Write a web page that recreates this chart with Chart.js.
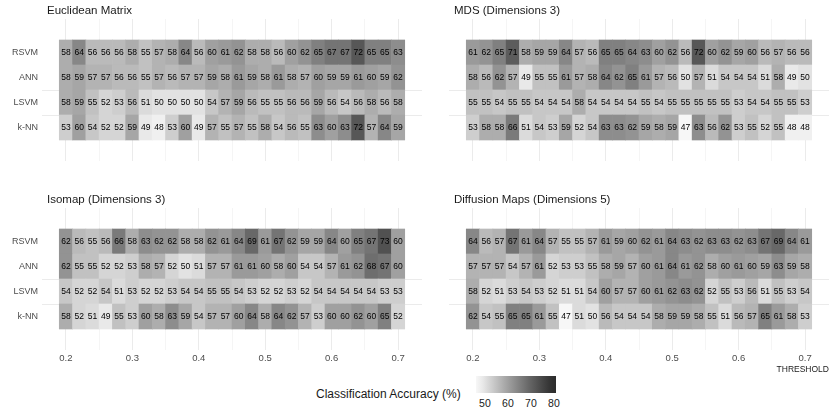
<!DOCTYPE html>
<html>
<head>
<meta charset="utf-8">
<script src="https://cdn.jsdelivr.net/npm/chart.js@4.4.1/dist/chart.umd.min.js"></script>
<style>
    * {
        margin: 0;
        padding: 0;
    }

    body {
        width: 830px;
        height: 415px;
        position: relative;
        overflow: hidden;
        background: #fff;
        font-family: "Liberation Sans", Arial, sans-serif;
    }

    canvas {
        position: absolute;
    }

    .legend-title {
        position: absolute;
        left: 316px;
        top: 387px;
        font-size: 12px;
        color: #1a1a1a;
        white-space: nowrap;
    }

    .legend-bar {
        position: absolute;
        left: 476px;
        top: 376px;
        width: 80px;
        height: 17px;
    }

    .legend-label {
        position: absolute;
        top: 397px;
        font-size: 10.5px;
        color: #1a1a1a;
        transform: translateX(-50%);
    }

    .axis-title {
        position: absolute;
        right: 1px;
        top: 364px;
        font-size: 8.5px;
        color: #1a1a1a;
    }
</style>
</head>
<body>

<canvas id="p1" width="430" height="175" style="left:0px; top:0px;"></canvas>
<canvas id="p2" width="390" height="175" style="left:440px; top:0px;"></canvas>
<canvas id="p3" width="430" height="185" style="left:0px; top:190px;"></canvas>
<canvas id="p4" width="390" height="185" style="left:440px; top:190px;"></canvas>

<div class="legend-title">Classification Accuracy (%)</div>
<div class="legend-bar" id="legendBar"></div>
<div id="legendLabels"></div>
<div class="axis-title">THRESHOLD</div>

<script>
//   D A T A   //
const thresholds = [0.20, 0.22, 0.24, 0.26, 0.28, 0.30, 0.32, 0.34, 0.36, 0.38, 0.40, 0.42, 0.44,
                    0.46, 0.48, 0.50, 0.52, 0.54, 0.56, 0.58, 0.60, 0.62, 0.64, 0.66, 0.68, 0.70];
const cellWidth = 0.02;
const classifiers = ["RSVM", "ANN", "LSVM", "k-NN"];
const xMajorTicks = [0.2, 0.3, 0.4, 0.5, 0.6, 0.7];
const xMinorTicks = [0.25, 0.35, 0.45, 0.55, 0.65];
const legendTicks = [50, 60, 70, 80];

const euclidRSVM = [58, 64, 56, 56, 56, 58, 55, 57, 58, 64, 56, 60, 61, 62, 58, 58, 56, 60, 62, 65, 67, 67, 72, 65, 65, 63];
const euclidANN  = [58, 59, 57, 57, 56, 56, 55, 57, 56, 57, 57, 59, 58, 61, 59, 58, 61, 58, 57, 60, 59, 59, 61, 60, 59, 62];
const euclidLSVM = [58, 59, 55, 52, 53, 56, 51, 50, 50, 50, 50, 54, 57, 59, 56, 55, 55, 56, 56, 59, 56, 54, 56, 58, 56, 58];
const euclidKNN  = [53, 60, 54, 52, 52, 59, 49, 48, 53, 60, 49, 57, 55, 57, 55, 58, 54, 56, 55, 63, 60, 63, 72, 57, 64, 59];

const mdsRSVM = [61, 62, 65, 71, 58, 59, 59, 64, 57, 56, 65, 65, 64, 63, 60, 62, 56, 72, 60, 62, 59, 60, 56, 57, 56, 56];
const mdsANN  = [58, 56, 62, 57, 49, 55, 55, 61, 57, 58, 64, 62, 65, 61, 57, 56, 50, 57, 51, 54, 54, 54, 51, 58, 49, 50];
const mdsLSVM = [55, 55, 54, 55, 55, 54, 54, 54, 58, 54, 54, 54, 54, 55, 54, 55, 55, 55, 55, 55, 53, 54, 54, 55, 55, 53];
const mdsKNN  = [53, 58, 58, 66, 51, 54, 53, 59, 52, 54, 63, 63, 62, 59, 58, 59, 47, 63, 56, 62, 53, 55, 52, 55, 48, 48];

const isoRSVM = [62, 56, 55, 56, 66, 58, 63, 62, 62, 58, 58, 62, 61, 64, 69, 61, 67, 62, 59, 59, 64, 60, 65, 67, 73, 60];
const isoANN  = [62, 55, 55, 52, 52, 53, 58, 57, 52, 50, 51, 57, 57, 61, 61, 60, 58, 60, 54, 54, 57, 61, 62, 68, 67, 60];
const isoLSVM = [54, 52, 52, 54, 51, 53, 52, 52, 53, 54, 54, 55, 55, 54, 53, 52, 52, 53, 52, 54, 54, 54, 54, 54, 53, 53];
const isoKNN  = [58, 52, 51, 49, 55, 53, 60, 58, 63, 59, 54, 57, 57, 60, 64, 58, 64, 62, 57, 53, 60, 60, 62, 60, 65, 52];

const diffRSVM = [64, 56, 57, 67, 61, 64, 57, 55, 55, 57, 61, 59, 60, 62, 61, 64, 63, 62, 63, 63, 62, 63, 67, 69, 64, 61];
const diffANN  = [57, 57, 57, 54, 57, 61, 52, 53, 53, 55, 58, 59, 57, 60, 61, 64, 61, 62, 58, 60, 61, 60, 59, 63, 59, 58];
const diffLSVM = [58, 52, 51, 53, 54, 53, 52, 51, 51, 54, 60, 57, 57, 60, 61, 62, 63, 62, 52, 55, 53, 56, 51, 55, 53, 54];
const diffKNN  = [62, 54, 55, 65, 65, 61, 55, 47, 51, 50, 56, 54, 54, 54, 58, 59, 59, 58, 55, 51, 56, 57, 65, 61, 58, 53];

// colour scale limits
const fillMin = 47;
const fillMax = 80;


//   C O L O U R S   //
// grey ramp interpolated in lightness, like ggplot does
function greyToL(g) {
    const c = g / 255;
    const lin = c <= 0.04045 ? c / 12.92 : Math.pow((c + 0.055) / 1.055, 2.4);
    return lin > 0.008856 ? 116 * Math.cbrt(lin) - 16 : 903.3 * lin;
}
function lToGrey(L) {
    const y = L > 8 ? Math.pow((L + 16) / 116, 3) : L / 903.3;
    const c = y <= 0.0031308 ? 12.92 * y : 1.055 * Math.pow(y, 1 / 2.4) - 0.055;
    return Math.round(Math.max(0, Math.min(1, c)) * 255);
}
const lowL = greyToL(247);
const highL = greyToL(43);

function fillFor(v) {
    const t = Math.max(0, Math.min(1, (v - fillMin) / (fillMax - fillMin)));
    const g = lToGrey(lowL + (highL - lowL) * t);
    return `rgb(${g}, ${g}, ${g})`;
}


//   P L U G I N S   //
const cellText = {
    id: "cellText",
    afterDatasetsDraw(chart) {
        const ctx = chart.ctx;
        const meta = chart.getDatasetMeta(0);
        const ds = chart.data.datasets[0];
        ctx.save();
        ctx.font = '8.5px "Liberation Sans", Arial, sans-serif';
        ctx.fillStyle = "#000";
        ctx.textAlign = "center";
        ctx.textBaseline = "middle";
        meta.data.forEach((bar, k) => {
            const p = bar.getCenterPoint();
            ctx.fillText(String(ds.data[k].v), p.x, p.y + 0.5);
        });
        ctx.restore();
    }
};

const stripTitle = {
    id: "stripTitle",
    afterDraw(chart, args, opts) {
        const ctx = chart.ctx;
        ctx.save();
        ctx.font = '11.5px "Liberation Sans", Arial, sans-serif';
        ctx.fillStyle = "#1a1a1a";
        ctx.textAlign = "left";
        ctx.textBaseline = "middle";
        ctx.fillText(opts.text, chart.chartArea.left + 5, chart.chartArea.top - 8);
        ctx.restore();
    }
};

function isMajor(v) {
    return Math.abs(v * 10 - Math.round(v * 10)) < 1e-6;
}

Chart.defaults.font.family = '"Liberation Sans", Arial, sans-serif';

// x range expanded a little past the tiles, y a little past the rows
const xMin = 0.164;
const xMax = 0.736;
const yPad = 0.13;


//   P A N E L S   //
function makePanel(id, title, rows, cfg) {
    const cells = [];
    rows.forEach((vals, i) => {
        vals.forEach((v, j) => {
            cells.push({ x: [thresholds[j] - cellWidth / 2, thresholds[j] + cellWidth / 2], y: i, v: v });
        });
    });

    return new Chart(document.getElementById(id), {
        type: "bar",
        data: {
            datasets: [{
                data: cells,
                backgroundColor: c => (c.raw ? fillFor(c.raw.v) : "#ccc"),
                borderWidth: 0,
                borderSkipped: false,
                barPercentage: 1,
                categoryPercentage: 1,
                grouped: false
            }]
        },
        options: {
            indexAxis: "y",
            responsive: false,
            animation: false,
            events: [],
            layout: { padding: { top: cfg.top, right: cfg.right, left: 0, bottom: 0 } },
            plugins: {
                legend: { display: false },
                tooltip: { enabled: false },
                stripTitle: { text: title }
            },
            scales: {
                x: {
                    type: "linear",
                    min: xMin,
                    max: xMax,
                    afterBuildTicks: s => {
                        s.ticks = [...xMajorTicks, ...xMinorTicks].sort((a, b) => a - b).map(v => ({ value: v }));
                    },
                    afterFit: s => { s.height = cfg.xHeight; },
                    border: { display: false },
                    grid: {
                        drawTicks: false,
                        color: "#ebebeb",
                        lineWidth: c => (c.tick && !isMajor(c.tick.value) ? 0.5 : 1)
                    },
                    ticks: {
                        display: cfg.showX,
                        padding: 3,
                        color: "#4d4d4d",
                        font: { size: 9.5 },
                        maxRotation: 0,
                        autoSkip: false,
                        callback: v => (isMajor(v) ? v.toFixed(1) : "")
                    }
                },
                y: {
                    type: "linear",
                    reverse: true,
                    min: -0.5 - yPad,
                    max: classifiers.length - 0.5 + yPad,
                    afterBuildTicks: s => {
                        s.ticks = classifiers.map((c, i) => ({ value: i }));
                    },
                    afterFit: s => { s.width = cfg.yWidth; },
                    border: { display: false },
                    grid: {
                        drawTicks: false,
                        lineWidth: 1,
                        color: c => (c.tick && c.tick.value >= 2 ? "#ebebeb" : "rgba(0,0,0,0)")
                    },
                    ticks: {
                        display: cfg.showY,
                        padding: 4,
                        color: "#4d4d4d",
                        font: { size: 9 },
                        autoSkip: false,
                        callback: v => classifiers[v]
                    }
                }
            }
        },
        plugins: [cellText, stripTitle]
    });
}

const leftTop    = { top: 19, right: 8, yWidth: 42, xHeight: 14, showX: false, showY: true };
const rightTop   = { top: 19, right: 1, yWidth: 9,  xHeight: 14, showX: false, showY: false };
const leftBottom = { top: 18, right: 8, yWidth: 42, xHeight: 25, showX: true,  showY: true };
const rightBottom= { top: 18, right: 1, yWidth: 9,  xHeight: 25, showX: true,  showY: false };

makePanel("p1", "Euclidean Matrix", [euclidRSVM, euclidANN, euclidLSVM, euclidKNN], leftTop);
makePanel("p2", "MDS (Dimensions 3)", [mdsRSVM, mdsANN, mdsLSVM, mdsKNN], rightTop);
makePanel("p3", "Isomap (Dimensions 3)", [isoRSVM, isoANN, isoLSVM, isoKNN], leftBottom);
makePanel("p4", "Diffusion Maps (Dimensions 5)", [diffRSVM, diffANN, diffLSVM, diffKNN], rightBottom);


//   L E G E N D   //
// colour bar runs half a bin past the limits, as the ggplot colourbar does
const barLo = 46.1;
const barHi = 80.9;
const barLeft = 476;
const barWidth = 80;

let stops = [];
for (let k = 0; k <= 12; k++) {
    const v = barLo + (barHi - barLo) * k / 12;
    stops.push(`${fillFor(v)} ${(k / 12 * 100).toFixed(1)}%`);
}
document.getElementById("legendBar").style.background = `linear-gradient(to right, ${stops.join(", ")})`;

const labelBox = document.getElementById("legendLabels");
legendTicks.forEach(t => {
    const d = document.createElement("div");
    d.className = "legend-label";
    d.textContent = t;
    d.style.left = (barLeft + (t - barLo) / (barHi - barLo) * barWidth) + "px";
    labelBox.appendChild(d);
});
</script>
</body>
</html>
